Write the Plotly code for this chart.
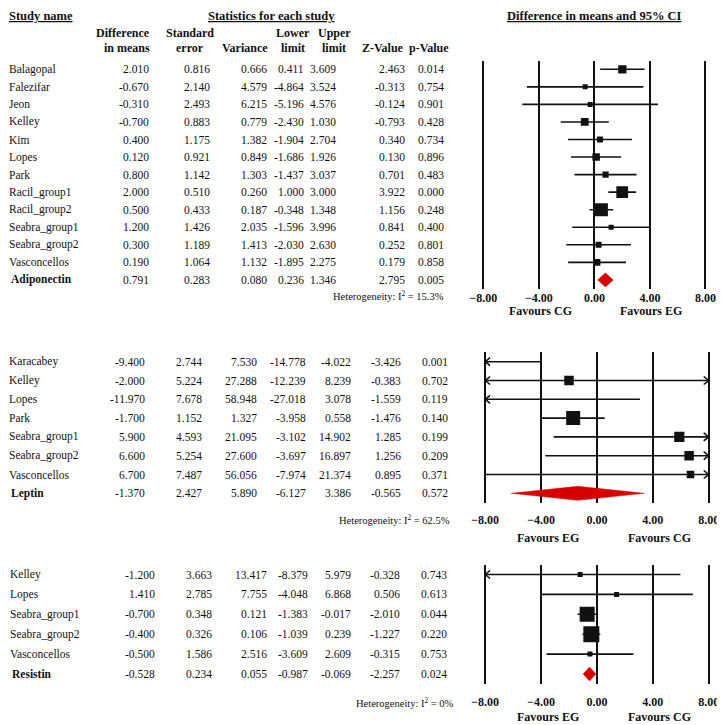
import plotly.graph_objects as go

# the page adds an 8px body margin, so the figure is drawn 8px smaller
# and every reference pixel position is shifted by that margin
PAGE = 725
OFF = 8
W = H = PAGE - OFF
LEFT_FIX = 8  # left-anchored annotations land ~8px right of their x
SERIF = "Liberation Serif, Times New Roman, serif"

# ---- Adiponectin ----
adipo_names = ["Balagopal", "Falezifar", "Jeon", "Kelley", "Kim", "Lopes", "Park",
               "Racil_group1", "Racil_group2", "Seabra_group1", "Seabra_group2", "Vasconcellos"]
adipo_diff = [2.010, -0.670, -0.310, -0.700, 0.400, 0.120, 0.800, 2.000, 0.500, 1.200, 0.300, 0.190]
adipo_se = [0.816, 2.140, 2.493, 0.883, 1.175, 0.921, 1.142, 0.510, 0.433, 1.426, 1.189, 1.064]
adipo_var = [0.666, 4.579, 6.215, 0.779, 1.382, 0.849, 1.303, 0.260, 0.187, 2.035, 1.413, 1.132]
adipo_lower = [0.411, -4.864, -5.196, -2.430, -1.904, -1.686, -1.437, 1.000, -0.348, -1.596, -2.030, -1.895]
adipo_upper = [3.609, 3.524, 4.576, 1.030, 2.704, 1.926, 3.037, 3.000, 1.348, 3.996, 2.630, 2.275]
adipo_z = [2.463, -0.313, -0.124, -0.793, 0.340, 0.130, 0.701, 3.922, 1.156, 0.841, 0.252, 0.179]
adipo_p = [0.014, 0.754, 0.901, 0.428, 0.734, 0.896, 0.483, 0.000, 0.248, 0.400, 0.801, 0.858]
adipo_summary = ["Adiponectin", 0.791, 0.283, 0.080, 0.236, 1.346, 2.795, 0.005]
adipo_i2 = "15.3%"

# ---- Leptin ----
lep_names = ["Karacabey", "Kelley", "Lopes", "Park", "Seabra_group1", "Seabra_group2", "Vasconcellos"]
lep_diff = [-9.400, -2.000, -11.970, -1.700, 5.900, 6.600, 6.700]
lep_se = [2.744, 5.224, 7.678, 1.152, 4.593, 5.254, 7.487]
lep_var = [7.530, 27.288, 58.948, 1.327, 21.095, 27.600, 56.056]
lep_lower = [-14.778, -12.239, -27.018, -3.958, -3.102, -3.697, -7.974]
lep_upper = [-4.022, 8.239, 3.078, 0.558, 14.902, 16.897, 21.374]
lep_z = [-3.426, -0.383, -1.559, -1.476, 1.285, 1.256, 0.895]
lep_p = [0.001, 0.702, 0.119, 0.140, 0.199, 0.209, 0.371]
lep_summary = ["Leptin", -1.370, 2.427, 5.890, -6.127, 3.386, -0.565, 0.572]
lep_i2 = "62.5%"

# ---- Resistin ----
res_names = ["Kelley", "Lopes", "Seabra_group1", "Seabra_group2", "Vasconcellos"]
res_diff = [-1.200, 1.410, -0.700, -0.400, -0.500]
res_se = [3.663, 2.785, 0.348, 0.326, 1.586]
res_var = [13.417, 7.755, 0.121, 0.106, 2.516]
res_lower = [-8.379, -4.048, -1.383, -1.039, -3.609]
res_upper = [5.979, 6.868, -0.017, 0.239, 2.609]
res_z = [-0.328, 0.506, -2.010, -1.227, -0.315]
res_p = [0.743, 0.613, 0.044, 0.220, 0.753]
res_summary = ["Resistin", -0.528, 0.234, 0.055, -0.987, -0.069, -2.257, 0.024]
res_i2 = "0%"

x_ticks = [-8, -4, 0, 4, 8]

panels = [
    dict(names=adipo_names, cols=[adipo_diff, adipo_se, adipo_var, adipo_lower, adipo_upper, adipo_z, adipo_p],
         summary=adipo_summary, i2=adipo_i2, favours=("Favours CG", "Favours EG"),
         row0=69.3, step=17.55, xm8=482.7, xp8=707.3, name_x=9, sum_x=11,
         col_r=[147, 208, 266, 303, 336, 405, 445], het_x=445, lab_y=295, fav_y=311,
         fav_x=(540, 652), box_max=13, standoff=0),
    dict(names=lep_names, cols=[lep_diff, lep_se, lep_var, lep_lower, lep_upper, lep_z, lep_p],
         summary=lep_summary, i2=lep_i2, favours=("Favours EG", "Favours CG"),
         row0=361.7, step=18.8, xm8=484.5, xp8=710.5, name_x=9, sum_x=11,
         col_r=[143, 200, 256, 305, 351, 401, 449], het_x=451, lab_y=519, fav_y=538,
         fav_x=(548, 661), box_max=14, standoff=8),
    dict(names=res_names, cols=[res_diff, res_se, res_var, res_lower, res_upper, res_z, res_p],
         summary=res_summary, i2=res_i2, favours=("Favours EG", "Favours CG"),
         row0=574.5, step=19.9, xm8=484.5, xp8=710.5, name_x=10, sum_x=12,
         col_r=[153, 210, 266, 307, 351, 400, 448], het_x=455, lab_y=702, fav_y=717,
         fav_x=(548, 661), box_max=16, standoff=9),
]


def fx(px):
    return (px - OFF) / W


def fy(py):
    return 1 - (py - OFF) / H


def re_weights(diff, var):
    # DerSimonian-Laird random-effects weights
    w = [1 / v for v in var]
    sw = sum(w)
    mean = sum(wi * d for wi, d in zip(w, diff)) / sw
    q = sum(wi * (d - mean) ** 2 for wi, d in zip(w, diff))
    c = sw - sum(wi ** 2 for wi in w) / sw
    tau2 = max(0.0, (q - (len(diff) - 1)) / c)
    return [1 / (v + tau2) for v in var]


fig = go.Figure()
annotations = []
layout_axes = {}
txt = dict(family=SERIF, size=11.5, color="#111")
bold = dict(family=SERIF, size=12, color="#111", weight="bold")

for k, p in enumerate(panels, start=1):
    xa = "x" if k == 1 else f"x{k}"
    ya = "y" if k == 1 else f"y{k}"
    n = len(p["names"]) + 1
    unit = (p["xp8"] - p["xm8"]) / 16
    pad = 0.6
    layout_axes["xaxis" if k == 1 else f"xaxis{k}"] = dict(
        domain=[fx(p["xm8"] - pad * unit), fx(p["xp8"] + pad * unit)],
        range=[-8 - pad, 8 + pad], anchor=ya, tickvals=x_ticks, tickformat=".2f",
        tickfont=dict(family=SERIF, size=12, color="#111", weight="bold"),
        showgrid=True, gridcolor="#111", gridwidth=2, zeroline=False, showline=False,
        ticks="", ticklabelstandoff=p["standoff"], fixedrange=True,
    )
    top = p["row0"] - p["step"] / 2
    bottom = p["row0"] + (n - 0.5) * p["step"]
    layout_axes["yaxis" if k == 1 else f"yaxis{k}"] = dict(
        domain=[fy(bottom), fy(top)], range=[n - 0.5, -0.5], anchor=xa,
        showgrid=False, zeroline=False, showticklabels=False, fixedrange=True,
    )

    diff, var = p["cols"][0], p["cols"][2]
    lower, upper = p["cols"][3], p["cols"][4]
    rows = list(range(len(p["names"])))

    # CI lines, with open arrow heads where the interval runs off the scale
    dx = 5 / unit
    dy = 4 / p["step"]
    lx, ly = [], []
    for r, lo, hi in zip(rows, lower, upper):
        a, b = max(lo, -8), min(hi, 8)
        lx += [a, b, None]
        ly += [r, r, None]
        if lo < -8:
            lx += [-8 + dx, -8, -8 + dx, None]
            ly += [r - dy, r, r + dy, None]
        if hi > 8:
            lx += [8 - dx, 8, 8 - dx, None]
            ly += [r - dy, r, r + dy, None]
    fig.add_trace(go.Scatter(x=lx, y=ly, xaxis=xa, yaxis=ya, mode="lines",
                             line=dict(color="#111", width=1.6), hoverinfo="skip",
                             showlegend=False))

    # study boxes, area proportional to weight
    w = re_weights(diff, var)
    wmax = max(w)
    bx, by, bs = [], [], []
    for r, d, wi in zip(rows, diff, w):
        if -8 <= d <= 8:
            bx.append(d)
            by.append(r)
            bs.append(max(5, p["box_max"] * (wi / wmax) ** 0.5))
    fig.add_trace(go.Scatter(x=bx, y=by, xaxis=xa, yaxis=ya, mode="markers",
                             marker=dict(symbol="square", size=bs, color="#111", opacity=1,
                                         line=dict(width=0)),
                             showlegend=False))

    # summary diamond
    s = p["summary"]
    rs = n - 1
    h = 7 / p["step"]
    fig.add_trace(go.Scatter(x=[s[4], s[1], s[5], s[1], s[4]],
                             y=[rs, rs - h, rs, rs + h, rs],
                             xaxis=xa, yaxis=ya, mode="lines", fill="toself",
                             fillcolor="#d80000", line=dict(color="#d80000", width=0.5),
                             showlegend=False))

    # table text
    for r, name in enumerate(p["names"]):
        annotations.append(dict(x=fx(p["name_x"] - LEFT_FIX), y=r, xref="paper", yref=ya,
                                text=name, xanchor="left", font=txt))
        for col, xr in zip(p["cols"], p["col_r"]):
            annotations.append(dict(x=fx(xr), y=r, xref="paper", yref=ya,
                                    text=f"{col[r]:.3f}", xanchor="right", font=txt))
    annotations.append(dict(x=fx(p["sum_x"] - LEFT_FIX), y=rs, xref="paper", yref=ya,
                            text=f"<b>{s[0]}</b>", xanchor="left", font=txt))
    for v, xr in zip(s[1:], p["col_r"]):
        annotations.append(dict(x=fx(xr), y=rs, xref="paper", yref=ya,
                                text=f"{v:.3f}", xanchor="right", font=txt))

    annotations.append(dict(x=fx(p["het_x"]), y=fy(p["lab_y"]),
                            text=f"Heterogeneity: I<sup>2</sup> = {p['i2']}",
                            xanchor="right", font=dict(family=SERIF, size=10.5, color="#111")))
    for lab, xp in zip(p["favours"], p["fav_x"]):
        annotations.append(dict(x=fx(xp), y=fy(p["fav_y"]), text=lab, xanchor="center",
                                font=dict(family=SERIF, size=12, color="#111", weight="bold")))

# headers
ul = dict(bold, size=12.5, lineposition="under")
annotations += [
    dict(x=fx(9 - LEFT_FIX), y=fy(16), text="Study name", xanchor="left", font=ul),
    dict(x=fx(268), y=fy(16), text="Statistics for each study", xanchor="center", font=ul),
    dict(x=fx(595), y=fy(16), text="Difference in means and 95% CI", xanchor="center", font=ul),
]
head_lines = [
    ("Difference", 148, 33, "right"), ("in means", 148, 48, "right"),
    ("Standard", 186, 33, "center"), ("error", 186, 48, "center"),
    ("Variance", 267, 48, "right"),
    ("Lower", 290, 33, "center"), ("limit", 290, 48, "center"),
    ("Upper", 332, 33, "center"), ("limit", 332, 48, "center"),
    ("Z-Value", 404, 48, "right"), ("p-Value", 450, 48, "right"),
]
for t, xp, yp, anc in head_lines:
    annotations.append(dict(x=fx(xp), y=fy(yp), text=t, xanchor=anc, font=bold))

for a in annotations:
    a.setdefault("xref", "paper")
    a.setdefault("yref", "paper")
    a.setdefault("yanchor", "middle")
    a["showarrow"] = False

fig.update_layout(
    width=W, height=H, margin=dict(l=0, r=0, t=0, b=0),
    paper_bgcolor="white", plot_bgcolor="white",
    annotations=annotations, showlegend=False, **layout_axes,
)

fig.write_html("out.html")
